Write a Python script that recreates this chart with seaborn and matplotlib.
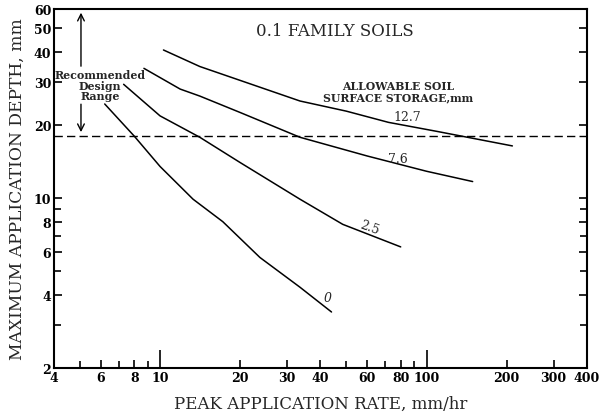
import numpy as np
import pandas as pd
import matplotlib
matplotlib.use("Agg")
import matplotlib.pyplot as plt
import matplotlib.ticker as mticker
import seaborn as sns

# ── Data (log-log) ─────────────────────────────────────────
rate_127 = [10.3, 14.1, 20, 33.5, 50, 72, 110, 210]
depth_127 = [40.7, 34.8, 30.5, 25.1, 22.8, 20.5, 18.8, 16.4]

rate_76 = [8.7, 11.9, 14.1, 20, 33.5, 60, 100, 149]
depth_76 = [34.2, 28.1, 26.3, 22.5, 17.8, 14.9, 12.9, 11.7]

rate_25 = [7.3, 10, 14.1, 20, 33.5, 48.5, 80]
depth_25 = [29.4, 21.8, 17.8, 14.0, 9.9, 7.8, 6.3]

rate_0 = [6.2, 8.0, 10, 13.3, 17.2, 23.7, 33.5, 44]
depth_0 = [24.4, 18.0, 13.5, 9.9, 8.0, 5.7, 4.3, 3.4]

design_limit = 18.0

x_ticks = [4, 6, 8, 10, 20, 30, 40, 60, 80, 100, 200, 300, 400]
y_ticks = [2, 4, 6, 8, 10, 20, 30, 40, 50, 60]

curves = [("12.7", rate_127, depth_127), ("7.6", rate_76, depth_76),
          ("2.5", rate_25, depth_25), ("0", rate_0, depth_0)]
df = pd.concat([pd.DataFrame({"rate": r, "depth": d, "storage": s}) for s, r, d in curves])

# ── Style ──────────────────────────────────────────────────
sns.set_theme(style="ticks")
plt.rcParams["font.family"] = ["DejaVu Serif"]

fig = plt.figure(figsize=(6.02, 4.14), dpi=100)
ax = fig.add_axes([0.0897, 0.1087, 0.8853, 0.8671])

for s, _, _ in curves:
    sns.lineplot(data=df[df["storage"] == s], x="rate", y="depth", ax=ax,
                 color="black", linewidth=1.1, sort=False, estimator=None)

ax.axhline(design_limit, color="black", linestyle=(0, (6, 3)), linewidth=1.0)

ax.set_xscale("log")
ax.set_yscale("log")
ax.set_xlim(4, 400)
ax.set_ylim(2, 60)

ax.xaxis.set_major_locator(mticker.FixedLocator(x_ticks))
ax.xaxis.set_minor_locator(mticker.FixedLocator([5, 7, 9, 50, 70, 90]))
ax.xaxis.set_major_formatter(mticker.FixedFormatter([str(v) for v in x_ticks]))
ax.xaxis.set_minor_formatter(mticker.NullFormatter())
ax.yaxis.set_major_locator(mticker.FixedLocator(y_ticks))
ax.yaxis.set_minor_locator(mticker.FixedLocator([3, 5, 7, 9]))
ax.yaxis.set_major_formatter(mticker.FixedFormatter([str(v) for v in y_ticks]))
ax.yaxis.set_minor_formatter(mticker.NullFormatter())

ax.tick_params(axis="both", which="both", direction="in", right=True, top=False,
               width=1.2, colors="black", labelsize=9, pad=2)
ax.tick_params(axis="both", which="major", length=6)
ax.tick_params(axis="both", which="minor", length=5)
# decade ticks on the x axis are drawn taller
for t, v in zip(ax.xaxis.get_major_ticks(), x_ticks):
    if v in (10, 100):
        t.tick1line.set_markersize(13)
for lab in ax.get_xticklabels() + ax.get_yticklabels():
    lab.set_fontweight("bold")

for sp in ax.spines.values():
    sp.set_linewidth(1.5)
    sp.set_color("black")

ax.set_xlabel("PEAK APPLICATION RATE, mm/hr", fontsize=12, labelpad=8)
ax.set_ylabel("MAXIMUM APPLICATION DEPTH, mm", fontsize=12.3, labelpad=6)

# ── Annotations ────────────────────────────────────────────
ax.text(0.527, 0.94, "0.1 FAMILY SOILS", transform=ax.transAxes, ha="center",
        va="center", fontsize=12)
ax.text(78, 27.6, "ALLOWABLE SOIL\nSURFACE STORAGE,mm", ha="center", va="center",
        fontsize=7.8, fontweight="bold", linespacing=1.0)
ax.text(5.95, 29.2, "Recommended\nDesign\nRange", ha="center", va="center",
        fontsize=7.9, fontweight="bold", linespacing=0.95)
ax.annotate("", xy=(5.05, 59.5), xytext=(5.05, 34),
            arrowprops=dict(arrowstyle="->", color="black", lw=1))
ax.annotate("", xy=(5.05, 18.2), xytext=(5.05, 25.0),
            arrowprops=dict(arrowstyle="->", color="black", lw=1))

ax.text(85, 21.6, "12.7", fontsize=9, ha="center", va="center")
ax.text(78, 14.5, "7.6", fontsize=9, ha="center", va="center")
ax.text(61, 7.6, "2.5", fontsize=9, ha="center", va="center", rotation=-20)
ax.text(42.7, 3.9, "0", fontsize=9, ha="center", va="center", style="italic")

fig.savefig("out.png", dpi=100)
